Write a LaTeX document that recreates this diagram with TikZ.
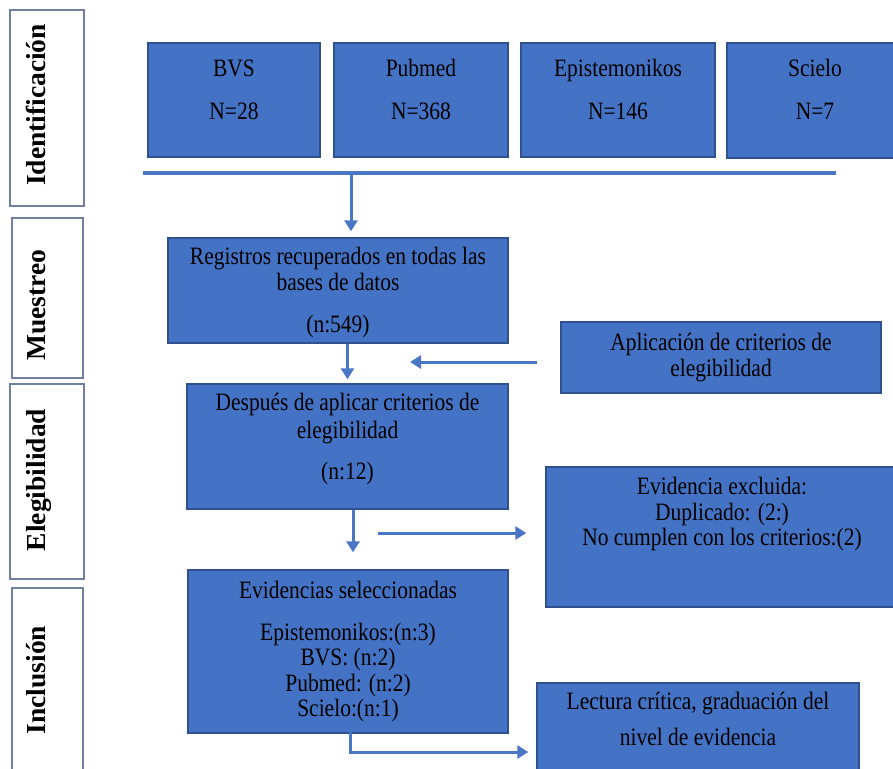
\documentclass[tikz,border=0pt]{standalone}
\usepackage{fontspec}
\setmainfont{Liberation Serif}
\newfontfamily\boxfont{Liberation Serif}[FakeStretch=0.86]
\usetikzlibrary{arrows.meta}
\definecolor{boxblue}{HTML}{4472C4}
\definecolor{boxedge}{HTML}{2F528F}
\definecolor{arrowblue}{HTML}{4A76C6}
\definecolor{sidegray}{HTML}{7080A0}
\newcommand{\bxt}[4]{\parbox[c][#2][t]{#1}{\centering\vspace*{#3}\strut #4}}
\tikzset{
  bluebox/.style={draw=boxedge, line width=1.4pt, fill=boxblue, inner sep=0pt, text=black,
    font=\boxfont\fontsize{25}{25.5}\selectfont},
  sidebox/.style={draw=sidegray, line width=1.8pt, fill=white, inner sep=0pt},
  sidetext/.style={rotate=90, anchor=base, inner sep=0pt, font=\fontsize{27.5}{30}\selectfont\bfseries},
  flow/.style={draw=arrowblue, line width=3pt, -{Triangle[length=11pt,width=13pt]}},
  plainline/.style={draw=arrowblue, line width=3.5pt}
}
\begin{document}
\begin{tikzpicture}[x=1pt,y=-1pt]
\useasboundingbox (0,0) rectangle (893,768);
\clip (0,0) rectangle (893,768);
% side labels
\node[sidebox, minimum width=74pt, minimum height=196pt] (sid1) at (47,108) {};
\node[sidetext] (sidt1) at (45,105) {Identificación};
\node[sidebox, minimum width=71pt, minimum height=160pt] (sid2) at (47.5,298) {};
\node[sidetext] (sidt2) at (45,305) {Muestreo};
\node[sidebox, minimum width=74pt, minimum height=195pt] (sid3) at (47,481.5) {};
\node[sidetext] (sidt3) at (45,480) {Elegibilidad};
\node[sidebox, minimum width=71pt, minimum height=212pt] (sid4) at (47.5,694) {};
\node[sidetext] (sidt4) at (45,680) {Inclusión};
% top boxes
\node[bluebox] (bvs) at (234,100) {\bxt{172pt}{114pt}{16pt}{BVS\\[17pt]N=28}};
\node[bluebox] (pub) at (421,100) {\bxt{174pt}{114pt}{16pt}{Pubmed\\[17pt]N=368}};
\node[bluebox] (epi) at (618,100) {\bxt{194pt}{114pt}{16pt}{Epistemonikos\\[17pt]N=146}};
\node[bluebox] (sci) at (815,100.5) {\bxt{176pt}{115pt}{16pt}{Scielo\\[17pt]N=7}};
% collecting line
\coordinate (lineL) at (143,173);
\coordinate (lineR) at (836,173);
\coordinate (j1) at (351,173);
\draw[plainline] (lineL) -- (lineR);
% main column
\node[bluebox] (reg) at (338,290.5) {\bxt{340pt}{105pt}{9pt}{Registros recuperados en todas las\\bases de datos\\[17pt](n:549)}};
\node[bluebox] (apl) at (721,357.5) {\bxt{320pt}{71pt}{11pt}{Aplicación de criterios de\\elegibilidad}};
\node[bluebox] (des) at (347.5,446.5) {\bxt{321pt}{125pt}{9pt}{Después de aplicar criterios  de\\[2pt]elegibilidad\\[16pt](n:12)}};
\node[bluebox] (exc) at (722,537) {\bxt{352pt}{140pt}{10pt}{Evidencia excluida:\\Duplicado: (2:)\\No cumplen con los criterios:(2)}};
\node[bluebox] (sel) at (348,651.5) {\bxt{320pt}{163pt}{11pt}{Evidencias  seleccionadas\\[16pt]Epistemonikos:(n:3)\\BVS: (n:2)\\Pubmed: (n:2)\\Scielo:(n:1)}};
\node[bluebox] (lec) at (698,736.5) {\bxt{322pt}{107pt}{9pt}{Lectura crítica, graduación del\\[10pt]nivel de evidencia}};
% connectors
\draw[flow, shorten >=6pt] (j1) -- (j1 |- reg.north);
\draw[flow, shorten >=4pt] (reg.south -| des.north) -- (des.north);
\coordinate (a1s) at (537,362);
\coordinate (a1e) at (410,362);
\draw[flow] (a1s) -- (a1e);
\coordinate (d1) at (353,509.5);
\draw[flow, shorten >=17pt] (d1) -- (d1 |- sel.north);
\coordinate (a2s) at (378,533);
\draw[flow, shorten >=19pt] (a2s) -- (a2s -| exc.west);
\coordinate (e1) at (350,733);
\coordinate (e2) at (350,752);
\draw[flow, line cap=round, shorten >=8pt] (e1) -- (e2) -- (e2 -| lec.west);
\end{tikzpicture}
\end{document}
